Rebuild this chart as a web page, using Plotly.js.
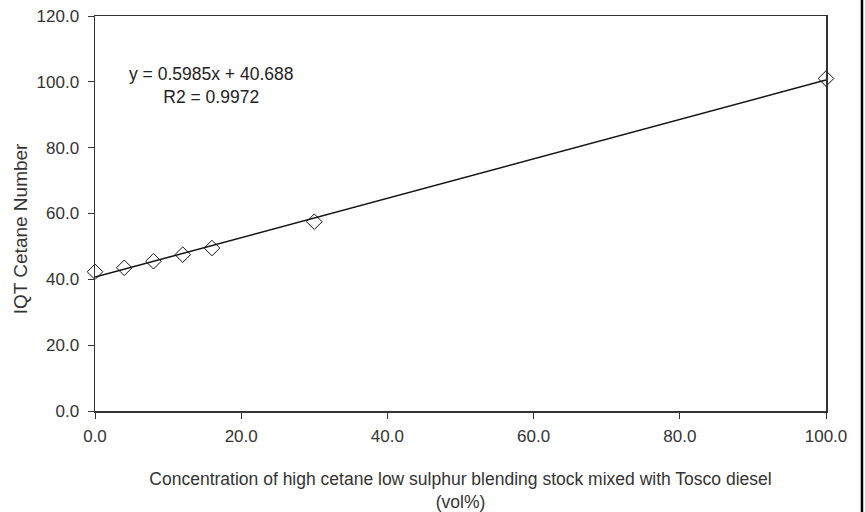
<!DOCTYPE html>
<html>
<head>
<meta charset="utf-8">
<script src="https://cdn.plot.ly/plotly-3.0.1.min.js"></script>
<style>html,body{margin:0;padding:0;background:#fff;}#chart{width:865px;height:512px;}</style>
</head>
<body>
<div id="chart"></div>
<script>
// Data
const concentration = [0, 4, 8, 12, 16, 30, 100];
const cetaneNumber = [42.3, 43.5, 45.5, 47.5, 49.5, 57.5, 101.0];
const trendSlope = 0.5985;
const trendIntercept = 40.688;
const trendX = [0, 100];
const trendY = trendX.map(x => trendSlope * x + trendIntercept);
const xTickVals = [0, 20, 40, 60, 80, 100];
const yTickVals = [0, 20, 40, 60, 80, 100, 120];
const equationText = 'y = 0.5985x + 40.688<br>R2 = 0.9972';
const yTitleText = 'IQT Cetane Number';

const font = 'Liberation Sans, Arial, sans-serif';
const textColor = '#333';

const traces = [
  {
    x: trendX, y: trendY, mode: 'lines', type: 'scatter',
    line: {color: '#111', width: 1.5}, hoverinfo: 'skip', showlegend: false, cliponaxis: false
  },
  {
    x: concentration, y: cetaneNumber, mode: 'markers', type: 'scatter',
    marker: {symbol: 'diamond-open', size: 12, color: '#111', line: {width: 1, color: '#111'}},
    showlegend: false, cliponaxis: false
  }
];

const layout = {
  width: 865, height: 512,
  margin: {l: 95, r: 39, t: 16, b: 101},
  paper_bgcolor: '#fff', plot_bgcolor: '#fff',
  font: {family: font, size: 17, color: textColor},
  xaxis: {
    range: [0, 100], tickvals: xTickVals, tickformat: '.1f',
    showgrid: false, zeroline: false, showline: true, linecolor: '#333', linewidth: 1.5, mirror: true,
    ticks: 'outside', ticklen: 6, tickcolor: '#333', tickwidth: 1, ticklabelstandoff: 3,
    tickfont: {family: font, size: 17, color: textColor},
    title: {text: 'Concentration of high cetane low sulphur blending stock mixed with Tosco diesel<br>(vol%)',
            font: {family: font, size: 17.5, color: textColor}, standoff: 33}
  },
  yaxis: {
    range: [0, 120], tickvals: yTickVals, tickformat: '.1f',
    showgrid: false, zeroline: false, showline: true, linecolor: '#333', linewidth: 1.5, mirror: true,
    ticks: 'outside', ticklen: 6, tickcolor: '#333', tickwidth: 1, ticklabelstandoff: 5,
    tickfont: {family: font, size: 17, color: textColor}
  },
  annotations: [
    {
      xref: 'paper', yref: 'paper', x: 0.159, y: 0.825, xanchor: 'center', yanchor: 'middle',
      text: equationText, showarrow: false, align: 'center',
      font: {family: font, size: 17.5, color: '#222'}
    },
    {
      xref: 'paper', yref: 'paper', x: -0.1026, y: 0.4626, xanchor: 'center', yanchor: 'middle',
      text: yTitleText, showarrow: false, textangle: -90,
      font: {family: font, size: 19, color: textColor}
    }
  ],
  shapes: [{
    type: 'line', xref: 'paper', yref: 'paper', x0: 1.0492, x1: 1.0492, y0: -0.3, y1: 1.1,
    line: {color: '#000', width: 2.5}
  }]
};

Plotly.newPlot('chart', traces, layout, {displayModeBar: false, staticPlot: true});
</script>
</body>
</html>
